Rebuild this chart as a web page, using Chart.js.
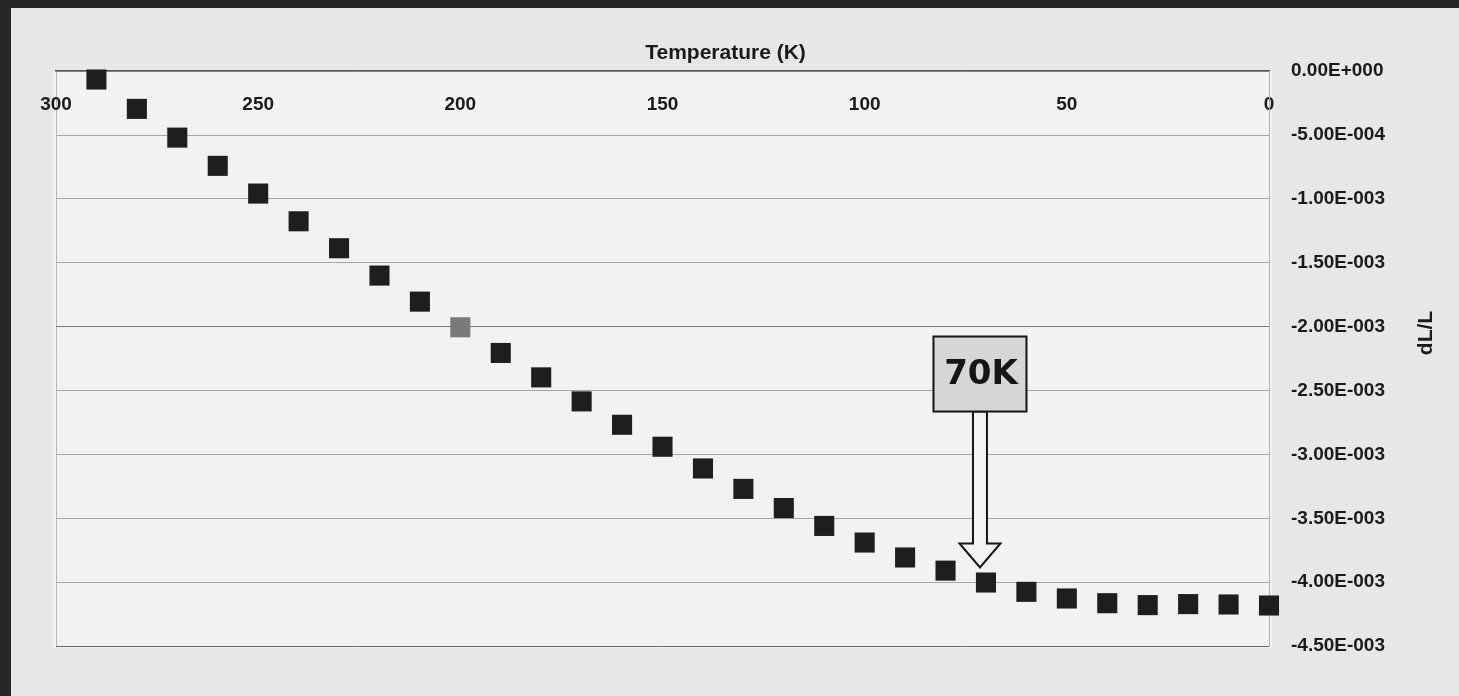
<!DOCTYPE html>
<html>
<head>
<meta charset="utf-8">
<script src="https://cdn.jsdelivr.net/npm/chart.js@4.4.1/dist/chart.umd.min.js"></script>
<style>
  html, body { margin: 0; padding: 0; background: #262626; overflow: hidden; }
  #wrap { width: 1459px; height: 696px; position: relative; }
  canvas { display: block; }
</style>
</head>
<body>
<div id="wrap"><canvas id="c" width="1459" height="696"></canvas></div>
<script>
// ---- data ----
const temperatures = [290, 280, 270, 260, 250, 240, 230, 220, 210, 200,
                      190, 180, 170, 160, 150, 140, 130, 120, 110, 100,
                      90, 80, 70, 60, 50, 40, 30, 20, 10, 0];
const dLL = [-0.000065, -0.000295, -0.000520, -0.000741, -0.000958, -0.001175, -0.001386, -0.001600, -0.001804, -0.002005,
             -0.002206, -0.002397, -0.002585, -0.002768, -0.002940, -0.003110, -0.003270, -0.003420, -0.003560, -0.003690,
             -0.003807, -0.003910, -0.004003, -0.004076, -0.004128, -0.004165, -0.004180, -0.004172, -0.004175, -0.004183];
const highlightTemperature = 200;
const xTickValues = [300, 250, 200, 150, 100, 50, 0];
const yTickValues = [0, -0.0005, -0.001, -0.0015, -0.002, -0.0025, -0.003, -0.0035, -0.004, -0.0045];
const xTitle = 'Temperature (K)';
const yTitle = 'dL/L';
const annotationTemperature = 70;
const annotationLabel = '70K';

const FONT = "'Liberation Sans', Arial, sans-serif";
const TEXT = '#1a1a1a';

function sci(v) {
  if (Math.abs(v) < 1e-12) return '0.00E+000';
  const s = Number(v).toExponential(2);
  const parts = s.split('e');
  const sign = parts[1][0] === '-' ? '-' : '+';
  const digits = parts[1].replace(/[+-]/, '').padStart(3, '0');
  return parts[0] + 'E' + sign + digits;
}
function near(a, b) { return Math.abs(a - b) < 1e-9; }

const points = temperatures.map((t, i) => ({ x: t, y: dLL[i] }));
const pointColors = temperatures.map(t => t === highlightTemperature ? '#7a7a7a' : '#1e1e1e');

const backgroundPlugin = {
  id: 'bg',
  beforeDraw(chart) {
    const { ctx, chartArea: a } = chart;
    ctx.save();
    ctx.fillStyle = '#262626';
    ctx.fillRect(0, 0, chart.width, chart.height);
    ctx.fillStyle = '#e7e7e7';
    ctx.fillRect(11, 8, chart.width - 11, chart.height - 8);
    ctx.fillStyle = '#f2f2f2';
    ctx.fillRect(a.left - 3, a.top, a.right - a.left + 6, a.bottom - a.top + 2);
    ctx.restore();
  }
};

const annotationPlugin = {
  id: 'annot',
  afterDatasetsDraw(chart) {
    const { ctx } = chart;
    const xs = chart.scales.x, ys = chart.scales.y;
    const idx = temperatures.indexOf(annotationTemperature);
    const ax = xs.getPixelForValue(annotationTemperature) - 6;
    const ty = ys.getPixelForValue(dLL[idx]) - 15;
    ctx.save();
    // arrow
    ctx.beginPath();
    ctx.moveTo(ax - 7, ty - 156);
    ctx.lineTo(ax - 7, ty - 24);
    ctx.lineTo(ax - 20.5, ty - 24);
    ctx.lineTo(ax, ty);
    ctx.lineTo(ax + 20.5, ty - 24);
    ctx.lineTo(ax + 7, ty - 24);
    ctx.lineTo(ax + 7, ty - 156);
    ctx.closePath();
    ctx.fillStyle = '#f3f3f3';
    ctx.fill();
    ctx.lineWidth = 2;
    ctx.strokeStyle = '#151515';
    ctx.stroke();
    // box
    ctx.fillStyle = '#d6d6d6';
    ctx.fillRect(ax - 46.5, ty - 231, 93, 75);
    ctx.strokeRect(ax - 46.5, ty - 231, 93, 75);
    ctx.fillStyle = '#151515';
    ctx.font = "bold 34px 'DejaVu Sans', sans-serif";
    ctx.textAlign = 'center';
    ctx.textBaseline = 'middle';
    ctx.fillText(annotationLabel, ax + 1, ty - 192);
    // right axis title, reading bottom-to-top
    ctx.translate(1426, 333);
    ctx.rotate(-Math.PI / 2);
    ctx.font = "bold 21px " + FONT;
    ctx.fillStyle = TEXT;
    ctx.fillText(yTitle, 0, 0);
    ctx.restore();
  }
};

new Chart(document.getElementById('c'), {
  type: 'scatter',
  data: {
    datasets: [{
      data: points,
      pointStyle: 'rect',
      pointRadius: 14.2,
      pointHoverRadius: 14.2,
      pointBackgroundColor: pointColors,
      pointBorderWidth: 0,
      showLine: false,
      clip: false
    }]
  },
  options: {
    responsive: false,
    animation: false,
    devicePixelRatio: 1,
    events: [],
    layout: { padding: { top: 41, left: 0, right: 8, bottom: 50 } },
    plugins: {
      legend: { display: false },
      tooltip: { enabled: false },
      title: {
        display: true,
        text: xTitle,
        color: TEXT,
        font: { family: FONT, size: 21, weight: 'bold' },
        padding: { top: 0, bottom: 0 }
      }
    },
    scales: {
      x: {
        type: 'linear',
        position: 'top',
        reverse: true,
        min: 0,
        max: 300,
        afterBuildTicks: s => { s.ticks = xTickValues.map(v => ({ value: v })); },
        ticks: {
          mirror: true,
          padding: 22,
          maxRotation: 0,
          autoSkip: false,
          color: TEXT,
          font: { family: FONT, size: 19, weight: 'bold' }
        },
        grid: {
          drawTicks: false,
          lineWidth: 1,
          color: c => (c.tick && (c.tick.value === 0 || c.tick.value === 300)) ? '#b8b8b8' : 'rgba(0,0,0,0)'
        },
        border: { display: true, color: '#5a5a5a', width: 1.5 },
        afterFit: s => { s.height = 5; }
      },
      yLeft: {
        type: 'linear',
        position: 'left',
        display: true,
        ticks: { display: false },
        grid: { display: false },
        border: { display: false },
        afterFit: s => { s.width = 56; }
      },
      y: {
        type: 'linear',
        position: 'right',
        min: -0.0045,
        max: 0,
        afterBuildTicks: s => { s.ticks = yTickValues.map(v => ({ value: v })); },
        ticks: {
          padding: 22,
          color: TEXT,
          font: { family: FONT, size: 19, weight: 'bold' },
          callback: v => sci(v)
        },
        grid: {
          drawTicks: false,
          lineWidth: 1,
          color: c => {
            if (!c.tick) return '#a0a0a0';
            const v = c.tick.value;
            if (near(v, -0.0045)) return '#6a6a6a';
            if (near(v, -0.002)) return '#7c7c7c';
            return '#a6a6a6';
          }
        },
        border: { display: true, color: '#b0b0b0', width: 1 },
        afterFit: s => { s.width = 182; }
      }
    }
  },
  plugins: [backgroundPlugin, annotationPlugin]
});
</script>
</body>
</html>
